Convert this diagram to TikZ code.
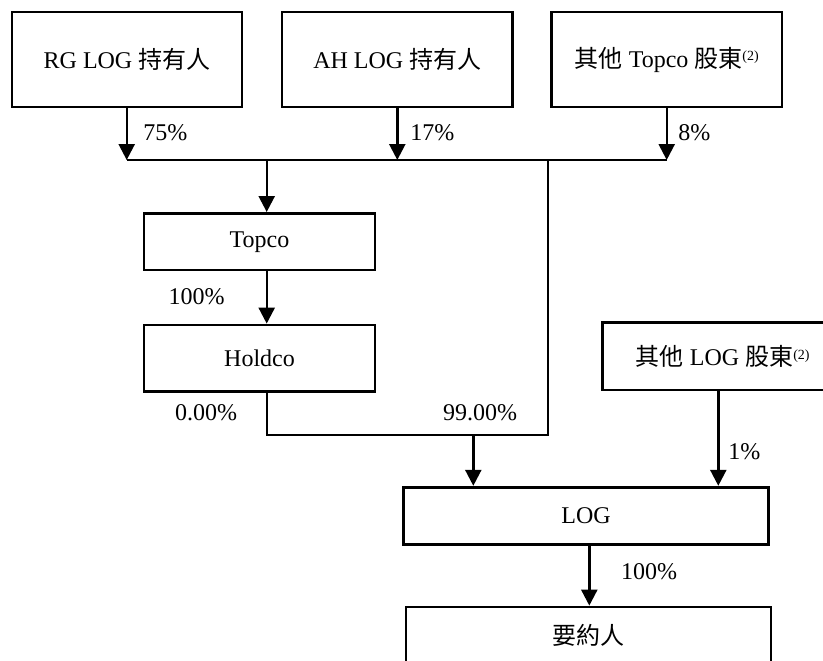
\documentclass[tikz,border=0pt]{standalone}
\usepackage{fontspec}
\setmainfont{Liberation Serif}
\newfontfamily\cjk{Noto Sans CJK TC}
\usetikzlibrary{positioning,arrows.meta,calc}
\newcommand{\zh}[1]{{\cjk #1}}
\newcommand{\fn}{\raisebox{0.55ex}{\fontsize{7}{8}\selectfont(2)}}

\begin{document}
\begin{tikzpicture}[x=0.5pt, y=-0.5pt,
    every node/.style={font=\fontsize{12}{14}\selectfont, align=center},
    box/.style={draw, line width=1.4pt, inner sep=0pt},
    arr/.style={-{Triangle[width=8pt,length=8pt]}, line width=1.2pt},
    link/.style={line width=1.2pt},
    pct/.style={anchor=west, inner sep=0pt}]
  \clip (0,0) rectangle (823,660);
  % shareholders
  \node[box, minimum width=115pt, minimum height=47.5pt] (rg) at (127,59.5) {RG LOG \zh{持有人}};
  \node[box, minimum width=115.3pt, minimum height=47.5pt] (ah) at (397.3,59.5) {AH LOG \zh{持有人}};
  \node[box, minimum width=115.2pt, minimum height=47.5pt] (othtop) at (666.8,59.5) {\zh{其他} Topco \zh{股東}\fn};
  \node[box, minimum width=115.5pt, minimum height=28.3pt] (topco) at (259.5,241.7) {Topco};
  \node[box, minimum width=115.5pt, minimum height=33.3pt] (holdco) at (259.5,358.3) {Holdco};
  \node[box, minimum width=120pt, minimum height=33.7pt] (othlog) at (722.8,356.3) {\zh{其他} LOG \zh{股東}\fn};
  \node[box, minimum width=182.8pt, minimum height=28.8pt] (log) at (586,516) {LOG};
  \node[box, minimum width=182.5pt, minimum height=28pt] (offeror) at (588.5,635) {\zh{要約人}};
  % junctions
  \coordinate (busL) at (126.7,160);
  \coordinate (busR) at (666.7,160);
  \coordinate (busT) at (266.7,160);
  \coordinate (busV) at (548,160);
  \coordinate (lowL) at (266.7,435);
  \coordinate (lowR) at (548,435);
  \coordinate (lowA) at (473.3,435);
  \coordinate (olA) at ($(othlog.south)+(-4.5,0)$);
  \coordinate (logA) at ($(log.south)+(3.3,0)$);
  % connectors
  \draw[link] (busL) -- (busR);
  \draw[arr] (rg.south -| busL) -- (busL);
  \draw[arr] (ah.south) -- (ah.south |- busL);
  \draw[arr] (othtop.south -| busR) -- (busR);
  \draw[arr] (busT) -- (busT |- topco.north);
  \draw[arr] (busT |- topco.south) -- (busT |- holdco.north);
  \draw[link] (busT |- holdco.south) -- (lowL) -- (lowR) -- (busV);
  \draw[arr] (lowA) -- (lowA |- log.north);
  \draw[arr] (olA) -- (olA |- log.north);
  \draw[arr] (logA) -- (logA |- offeror.north);
  % percentages
  \node[pct] (p75) at (143,133) {75\%};
  \node[pct] (p17) at (410,133) {17\%};
  \node[pct] (p8) at (678,133) {8\%};
  \node (p100a) at (196.7,296.7) {100\%};
  \node (p0) at (206,413) {0.00\%};
  \node (p99) at (480,413) {99.00\%};
  \node[pct] (p1) at (728,451.7) {1\%};
  \node[pct] (p100b) at (620.7,571.7) {100\%};
\end{tikzpicture}
\end{document}
